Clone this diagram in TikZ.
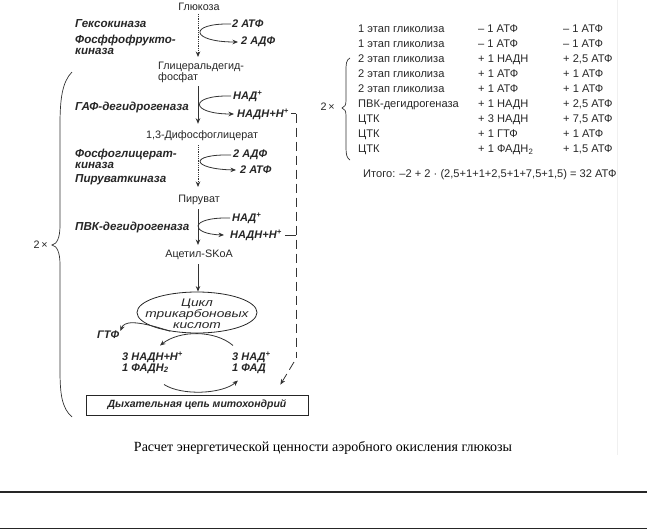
\documentclass[tikz,border=0pt]{standalone}
\usepackage{fontspec}
\setmainfont{Liberation Sans}
\newfontfamily\capfont{Liberation Serif}
\newfontfamily\widefont[FakeStretch=1.25]{Liberation Sans}
\usetikzlibrary{arrows.meta,shapes.geometric}
\begin{document}
\begin{tikzpicture}[x=1pt,y=-1pt,
  lbl/.style={font=\fontsize{10.8}{11}\selectfont, inner sep=0pt, text=black!85},
  enz/.style={font=\fontsize{11.6}{11}\selectfont\bfseries\itshape, inner sep=0pt, anchor=west, align=left, text=black!85},
  side/.style={font=\fontsize{11}{11}\selectfont\bfseries\itshape, inner sep=0pt, anchor=west, align=left, text=black!85},
  tbl/.style={font=\fontsize{11.1}{11}\selectfont, inner sep=0pt, anchor=west, text=black!85, text height=8.2pt, text depth=2.4pt},
  arr/.style={-{Stealth[length=5.5pt,width=4.5pt]}, line width=0.8pt, draw=black!80},
  darr/.style={arr, densely dotted},
  dline/.style={line width=0.8pt, draw=black!80, dash pattern=on 9pt off 5pt},
  thin/.style={line width=0.7pt, draw=black!80},
]
\useasboundingbox (0,0) rectangle (647,530);
% faint page edge
\draw[black!6, line width=0.8pt] (617,0) -- (617,455);

% main pathway
\node[lbl] (glc) at (199,7) {Глюкоза};
\node[lbl, anchor=west, align=left] (gap) at (158,72.5) {Глицеральдегид-\\фосфат};
\node[lbl] (dpg) at (202,136) {1,3-Дифосфоглицерат};
\node[lbl] (pyr) at (199,200) {Пируват};
\node[lbl] (acc) at (199,255) {Ацетил-SKoA};
\node[draw=black!85, line width=0.8pt, ellipse, minimum width=120pt, minimum height=41pt, inner sep=0pt] (tca) at (197,312.5) {};
\node[font=\widefont\fontsize{11}{11}\selectfont\itshape, align=center, text=black!85, inner sep=0pt] (tcatext) at ([yshift=-1pt]tca.center) {Цикл\\трикарбоновых\\кислот};
\node[draw=black!85, line width=0.8pt, minimum width=222pt, minimum height=20pt, inner sep=0pt,
      font=\fontsize{10.5}{11}\selectfont\bfseries\itshape, text=black!85] (resp) at (197,405) {Дыхательная цепь митохондрий};

\draw[darr] ([yshift=-3pt]glc.south -| 198,0) -- ([yshift=5pt]gap.north -| 198,0);
\draw[arr] ([yshift=-3pt]gap.south -| 198,0) -- ([yshift=7pt]dpg.north -| 198,0);
\draw[darr] ([yshift=-4pt]dpg.south -| 198,0) -- ([yshift=8pt]pyr.north -| 198,0);
\draw[arr] ([yshift=-4pt]pyr.south -| 198,0) -- ([yshift=5pt]acc.north -| 198,0);
\draw[arr] ([yshift=-4pt]acc.south -| 198,0) -- (tca.north -| 198,0);

% enzymes
\node[enz] (hk) at (75,24) {Гексокиназа};
\node[enz] (pfk) at (75,44.5) {Фосффофрукто-\\киназа};
\node[enz] (gapdh) at (75,107) {ГАФ-дегидрогеназа};
\node[enz] (pgk) at (75,158.5) {Фосфоглицерат-\\киназа};
\node[enz] (pk) at (75,180) {Пируваткиназа};
\node[enz] (pdh) at (75,227) {ПВК-дегидрогеназа};

% side reactions
\node[side] (atp1) at (232,24) {2 АТФ};
\node[side] (adp1) at (241,42) {2 АДФ};
\draw[arr] ([xshift=-1pt]atp1.west) .. controls (188,23) and (190,42) .. ([xshift=-3pt]adp1.west);

\node[side] (nad1) at (233,96) {НАД\textsuperscript{+}};
\node[side] (nadh1) at (237,114) {НАДН+Н\textsuperscript{+}};
\draw[arr] ([xshift=-2pt]nad1.west) .. controls (188,95) and (190,114) .. ([xshift=-3pt]nadh1.west);

\node[side] (adp2) at (233,155) {2 АДФ};
\node[side] (atp2) at (240,170) {2 АТФ};
\draw[arr] ([xshift=-2pt]adp2.west) .. controls (188,154) and (191,169) .. ([xshift=-4pt]atp2.west);

\node[side] (nad2) at (232,218) {НАД\textsuperscript{+}};
\node[side] (nadh2) at (230,235) {НАДН+Н\textsuperscript{+}};
\draw[arr] ([xshift=-2pt]nad2.west) .. controls (188,217) and (190,234) .. ([xshift=-6pt]nadh2.west);

% dashed NADH route
\coordinate (d1) at (296,113.5);
\coordinate (d2) at (296,358);
\coordinate (d3) at ([shift={(-28,-10)}]resp.north east);
\draw[thin] ([xshift=2pt]nadh1.east |- d1) -- (d1);
\draw[dline] (d1) -- (d2);
\draw[thin] ([xshift=3pt]nadh2.east) -- (nadh2.east -| d1);
\draw[arr, dash pattern=on 9pt off 5pt] ([shift={(-2,4)}]d2) -- (d3);

% TCA products
\node[side] (gtp) at (97,335) {ГТФ};
\draw[arr] (tca.215) .. controls (133,319) and (124,322) .. ([shift={(1,-4)}]gtp.east);
\node[side] (nadh3) at (122,362.5) {3 НАДН+Н\textsuperscript{+}\\1 ФАДН\textsubscript{2}};
\node[side] (nad3) at (232,362.5) {3 НАД\textsuperscript{+}\\1 ФАД};
\draw[arr] ([shift={(1,-17)}]nad3.west) .. controls (215,330) and (180,330) .. ([shift={(38,-17)}]nadh3.west);
\draw[arr] ([shift={(42,22)}]nadh3.west) .. controls (182,396) and (222,394) .. ([shift={(6,18)}]nad3.west);

% big left brace
\draw[thin] (72,72) .. controls (62,82) and (60,100) .. (60,125) -- (60,225)
  .. controls (60,238) and (57,244) .. (52,245)
  .. controls (57,246) and (60,252) .. (60,265) -- (60,370)
  .. controls (60,395) and (62,408) .. (72,417);
\node[lbl, anchor=east] (two1) at (48,245) {2\,×};

% table
\foreach \i/\a/\b/\c in {0/{1 этап гликолиза}/{– 1 АТФ}/{– 1 АТФ},
  1/{1 этап гликолиза}/{– 1 АТФ}/{– 1 АТФ},
  2/{2 этап гликолиза}/{+ 1 НАДН}/{+ 2,5 АТФ},
  3/{2 этап гликолиза}/{+ 1 АТФ}/{+ 1 АТФ},
  4/{2 этап гликолиза}/{+ 1 АТФ}/{+ 1 АТФ},
  5/{ПВК-дегидрогеназа}/{+ 1 НАДН}/{+ 2,5 АТФ},
  6/{ЦТК}/{+ 3 НАДН}/{+ 7,5 АТФ},
  7/{ЦТК}/{+ 1 ГТФ}/{+ 1 АТФ},
  8/{ЦТК}/{+ 1 ФАДН\textsubscript{2}}/{+ 1,5 АТФ}} {
  \node[tbl] (r\i a) at (358,30+15*\i) {\a};
  \node[tbl] (r\i b) at (478,30+15*\i) {\b};
  \node[tbl] (r\i c) at (563,30+15*\i) {\c};
}
\draw[thin] (350,58) .. controls (346,60) and (346,64) .. (346,72) -- (346,100)
  .. controls (346,105) and (345,107) .. (342,108)
  .. controls (345,109) and (346,111) .. (346,116) -- (346,148)
  .. controls (346,155) and (347,158) .. (350,160);
\node[lbl, anchor=east] (two2) at (335,107) {2\,×};
\node[tbl] (total) at (363,175) {Итого: –2 + 2 · (2,5+1+1+2,5+1+7,5+1,5) = 32 АТФ};

% caption
\node[inner sep=0pt, font=\capfont\fontsize{14}{14}\selectfont] (cap) at (323,448) {Расчет энергетической ценности аэробного окисления глюкозы};

% bottom rules
\draw[line width=1.5pt, black!85] (0,492) -- (647,492);
\draw[line width=1.5pt, black!85] (0,528.5) -- (647,528.5);
\end{tikzpicture}
\end{document}
